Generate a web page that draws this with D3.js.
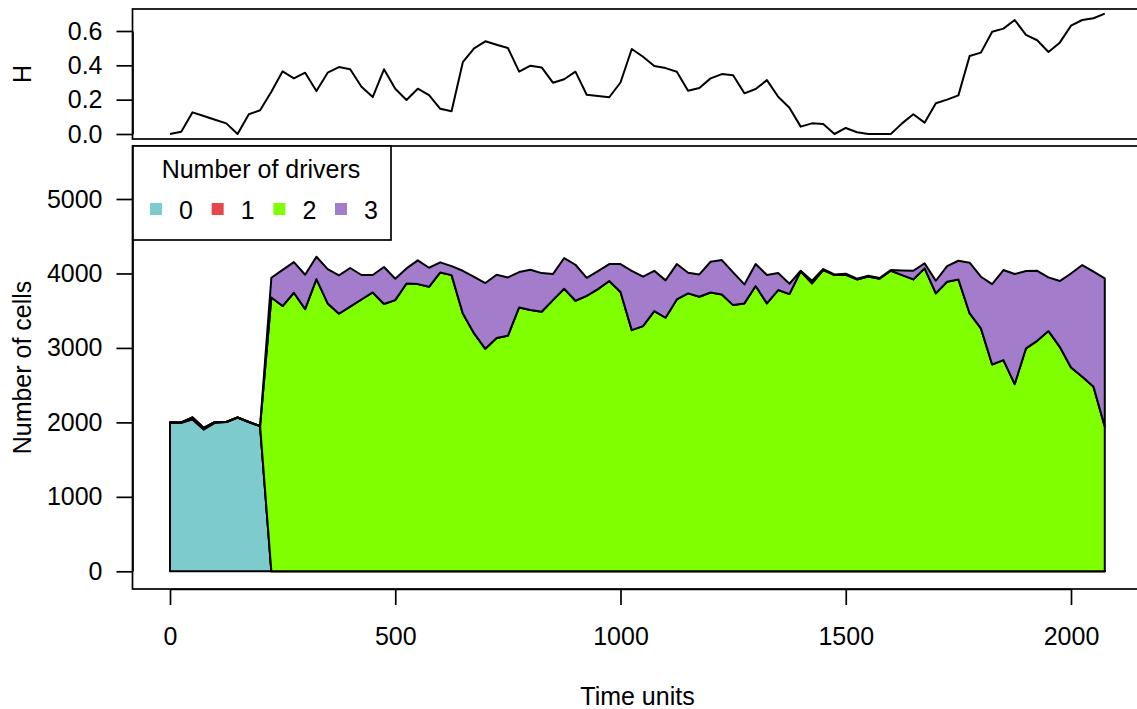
<!DOCTYPE html>
<html>
<head>
<meta charset="utf-8">
<script src="https://cdn.jsdelivr.net/npm/d3@7"></script>
<style>
  html, body { margin: 0; padding: 0; background: #ffffff; }
  svg { display: block; }
  text { font-family: "Liberation Sans", Arial, Helvetica, sans-serif; fill: #000; }
</style>
</head>
<body>
<svg id="chart" width="1137" height="709"></svg>
<script>
// ---------------- DATA ----------------
const times = [0,25,50,75,100,125,150,175,200,225,250,275,300,325,350,375,400,425,450,475,
  500,525,550,575,600,625,650,675,700,725,750,775,800,825,850,875,900,925,950,975,
  1000,1025,1050,1075,1100,1125,1150,1175,1200,1225,1250,1275,1300,1325,1350,1375,1400,1425,1450,1475,
  1500,1525,1550,1575,1600,1625,1650,1675,1700,1725,1750,1775,1800,1825,1850,1875,1900,1925,1950,1975,
  2000,2025,2050,2075];

// Heterogeneity H over time (top panel)
const hValues = [0.000,0.013,0.126,0.105,0.083,0.062,0.000,0.115,0.138,0.246,0.365,0.324,0.357,0.250,0.357,0.390,0.377,0.275,0.215,0.377,
  0.264,0.198,0.264,0.227,0.147,0.132,0.418,0.499,0.540,0.520,0.501,0.363,0.398,0.388,0.299,0.319,0.363,0.229,0.221,0.214,
  0.300,0.495,0.450,0.396,0.384,0.363,0.252,0.268,0.324,0.349,0.342,0.237,0.262,0.314,0.217,0.153,0.043,0.062,0.058,0.000,
  0.035,0.010,0.000,0.000,0.000,0.062,0.115,0.066,0.179,0.200,0.225,0.454,0.474,0.596,0.614,0.664,0.578,0.546,0.478,0.532,
  0.631,0.664,0.674,0.701];

// Number of cells by number of drivers
const drivers0 = [2000,1995,2040,1905,1995,2005,2065,2005,1950,0,0,0,0,0,0,0,0,0,0,0,
  0,0,0,0,0,0,0,0,0,0,0,0,0,0,0,0,0,0,0,0,
  0,0,0,0,0,0,0,0,0,0,0,0,0,0,0,0,0,0,0,0,
  0,0,0,0,0,0,0,0,0,0,0,0,0,0,0,0,0,0,0,0,
  0,0,0,0];
const drivers1 = [0,5,25,20,10,0,0,0,0,0,0,0,0,0,0,0,0,0,0,0,
  0,0,0,0,0,0,0,0,0,0,0,0,0,0,0,0,0,0,0,0,
  0,0,0,0,0,0,0,0,0,0,0,0,0,0,0,0,0,0,0,0,
  0,0,0,0,0,0,0,0,0,0,0,0,0,0,0,0,0,0,0,0,
  0,0,0,0];
const drivers2 = [0,0,0,0,0,0,0,0,0,3678,3562,3741,3521,3925,3598,3459,3554,3650,3745,3589,
  3642,3866,3857,3821,4014,3978,3463,3195,2988,3132,3163,3544,3508,3486,3642,3795,3633,3700,3790,3898,
  3750,3239,3293,3495,3405,3651,3732,3687,3745,3718,3575,3598,3831,3598,3777,3723,4030,3866,4046,3978,
  3983,3920,3960,3929,4036,3978,3920,4068,3732,3889,3920,3463,3262,2778,2836,2513,2993,3095,3226,3015,
  2738,2612,2477,1940];
const drivers3 = [0,0,0,0,0,0,0,0,0,264,486,412,462,300,461,515,519,329,234,497,
  287,202,319,256,135,121,573,759,883,851,784,475,542,519,350,412,484,242,242,228,
  376,797,663,541,502,475,278,300,412,462,439,255,295,381,228,139,6,36,13,9,
  13,9,9,9,10,63,116,67,170,210,251,681,694,1079,1210,1479,1039,941,721,883,
  1262,1501,1548,1994];

const driverKeys = ["0","1","2","3"];
const driverColors = ["#7dcbcd","#e5484a","#7fff00","#a37ccb"];
const xTicks = [0,500,1000,1500,2000];
const yTicksCells = [0,1000,2000,3000,4000,5000];
const yTicksH = [0,0.2,0.4,0.6];
const legendTitle = "Number of drivers";
const xLabel = "Time units";
const yLabelCells = "Number of cells";
const yLabelH = "H";

// ---------------- LAYOUT ----------------
const FONT = 25;
const svg = d3.select("#chart");
const boxLeft = 132.5, boxRight = 1143;
const topBox = {y0: 9, y1: 139};
const botBox = {y0: 146, y1: 589};

const x = d3.scaleLinear().domain([0, 2000]).range([170, 1071]);
const yH = d3.scaleLinear().domain([0, 0.6]).range([134, 31]);
const yC = d3.scaleLinear().domain([0, 5000]).range([571.3, 199]);

// ---------------- BOTTOM PANEL: stacked areas ----------------
const rows = times.map((t, i) => ({t, "0": drivers0[i], "1": drivers1[i], "2": drivers2[i], "3": drivers3[i]}));
const stacked = d3.stack().keys(driverKeys)(rows);
const area = d3.area()
  .x(d => x(d.data.t))
  .y0(d => yC(d[0]))
  .y1(d => yC(d[1]));

const gArea = svg.append("g");
stacked.forEach((layer, i) => {
  gArea.append("path")
    .attr("d", area(layer) )
    .attr("fill", driverColors[i])
    .attr("stroke", "#000")
    .attr("stroke-width", 2)
    .attr("stroke-linejoin", "round");
});

// box
svg.append("rect")
  .attr("x", boxLeft).attr("y", botBox.y0)
  .attr("width", boxRight - boxLeft).attr("height", botBox.y1 - botBox.y0)
  .attr("fill", "none").attr("stroke", "#000").attr("stroke-width", 1.7);

// x axis
const gx = svg.append("g").attr("transform", `translate(0,${botBox.y1})`)
  .call(d3.axisBottom(x).tickValues(xTicks).tickSize(16).tickSizeOuter(0).tickPadding(22).tickFormat(d3.format("d")));
// y axis cells
const gyC = svg.append("g").attr("transform", `translate(${boxLeft},0)`)
  .call(d3.axisLeft(yC).tickValues(yTicksCells).tickSize(16).tickSizeOuter(0).tickPadding(14).tickFormat(d3.format("d")));

// ---------------- TOP PANEL: H line ----------------
const line = d3.line().x((d, i) => x(times[i])).y(d => yH(d));
svg.append("path")
  .attr("d", line(hValues))
  .attr("fill", "none").attr("stroke", "#000").attr("stroke-width", 2)
  .attr("stroke-linejoin", "round");

svg.append("rect")
  .attr("x", boxLeft).attr("y", topBox.y0)
  .attr("width", boxRight - boxLeft).attr("height", topBox.y1 - topBox.y0)
  .attr("fill", "none").attr("stroke", "#000").attr("stroke-width", 1.7);

const gyH = svg.append("g").attr("transform", `translate(${boxLeft},0)`)
  .call(d3.axisLeft(yH).tickValues(yTicksH).tickSize(16).tickSizeOuter(0).tickPadding(14).tickFormat(d3.format(".1f")));

[gx, gyC, gyH].forEach(g => {
  g.selectAll("path.domain").attr("stroke", "#000").attr("stroke-width", 1.7);
  g.selectAll(".tick line").attr("stroke", "#000").attr("stroke-width", 1.7);
  g.selectAll(".tick text").attr("font-size", FONT).attr("font-family", "Liberation Sans, Arial, sans-serif").attr("fill", "#000");
});

// axis titles
svg.append("text").attr("x", 637.5).attr("y", 705)
  .attr("text-anchor", "middle")
  .attr("font-size", FONT).text(xLabel);
svg.append("text").attr("transform", `translate(22,${(botBox.y0 + botBox.y1) / 2}) rotate(-90)`)
  .attr("text-anchor", "middle").attr("dominant-baseline", "central")
  .attr("font-size", FONT).text(yLabelCells);
svg.append("text").attr("transform", `translate(22,${(topBox.y0 + topBox.y1) / 2}) rotate(-90)`)
  .attr("text-anchor", "middle").attr("dominant-baseline", "central")
  .attr("font-size", FONT).text(yLabelH);

// ---------------- LEGEND ----------------
const lg = svg.append("g");
lg.append("rect").attr("x", 133).attr("y", 146).attr("width", 258).attr("height", 94)
  .attr("fill", "#fff").attr("stroke", "#000").attr("stroke-width", 1.7);
lg.append("text").attr("x", 261).attr("y", 169).attr("text-anchor", "middle")
  .attr("dominant-baseline", "central").attr("font-size", FONT).text(legendTitle);
const legX = d3.scalePoint().domain(driverKeys).range([156, 341]);
driverKeys.forEach((k, i) => {
  lg.append("rect").attr("x", legX(k) - 6).attr("y", 203).attr("width", 12).attr("height", 12)
    .attr("fill", driverColors[i]);
  lg.append("text").attr("x", legX(k) + 30).attr("y", 210).attr("text-anchor", "middle")
    .attr("dominant-baseline", "central").attr("font-size", FONT).text(k);
});
</script>
</body>
</html>
